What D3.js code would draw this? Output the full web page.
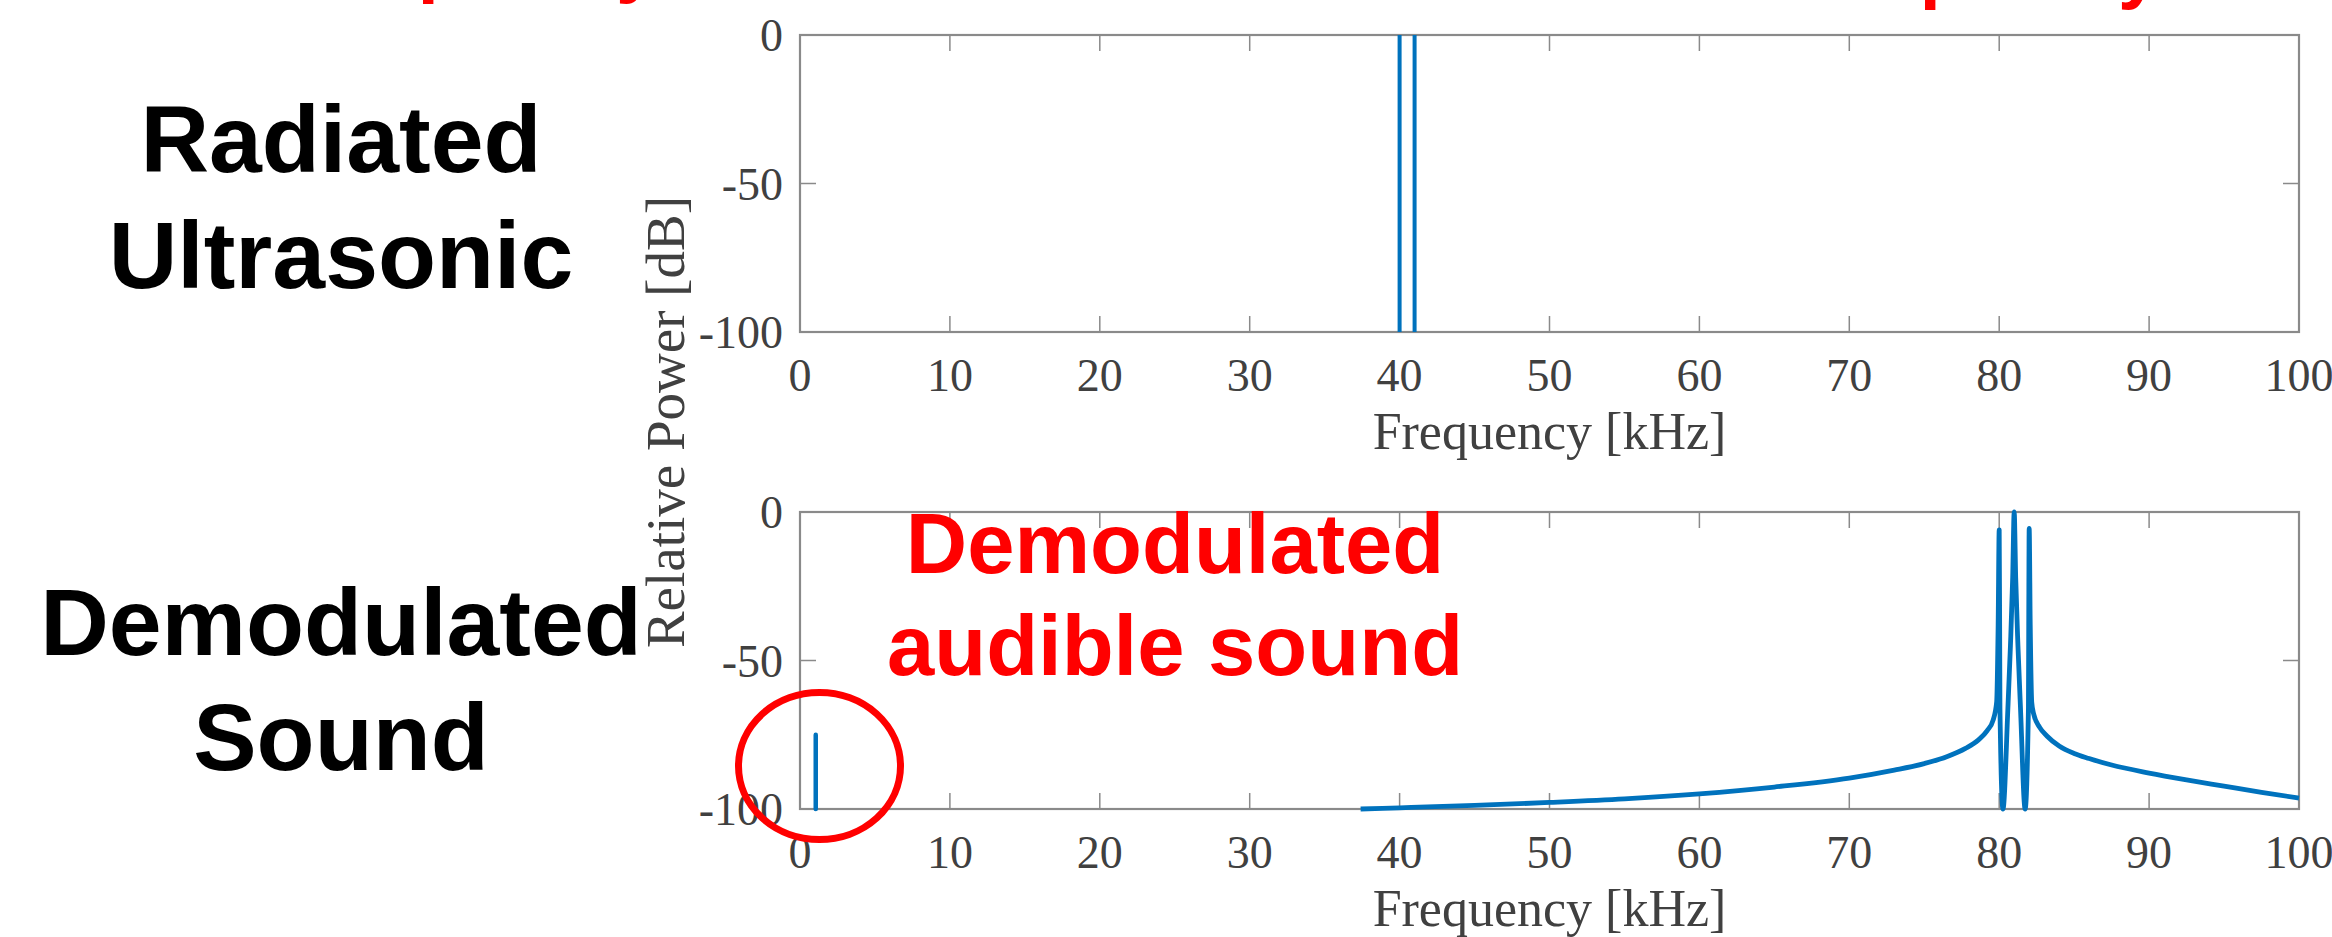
<!DOCTYPE html>
<html>
<head>
<meta charset="utf-8">
<script src="https://cdn.jsdelivr.net/npm/d3@7"></script>
<style>
  html, body { margin: 0; padding: 0; background: #fff; overflow: hidden; }
  svg { display: block; }
</style>
</head>
<body>
<svg id="chart" width="2332" height="937"></svg>
<script>
// ---------------- data ----------------
const xTickValues = [0, 10, 20, 30, 40, 50, 60, 70, 80, 90, 100];
const yTickValues = [0, -50, -100];
const xAxisTitle = "Frequency [kHz]";
const yAxisTitle = "Relative Power [dB]";

// Radiated ultrasonic: two spectral lines (kHz, dB)
const radiatedFreq = [40, 41];
const radiatedPower = [0, 0];

// Demodulated audible tone (kHz, dB)
const audibleFreq = [1.05];
const audiblePower = [-75];

// Demodulated spectrum around 2x carrier (kHz, dB)
const demodFreq = [37.4, 40, 45, 50, 55, 60, 65, 70, 73, 75, 76.5, 77.75, 78.6, 79.2, 79.6,
  79.83, 79.93, 80.0, 80.03, 80.05, 80.25, 80.58, 80.75, 80.9, 81.0, 81.1, 81.25, 81.42,
  81.73, 81.95, 81.97, 82.0, 82.07, 82.17, 82.3, 82.7, 83.2, 84, 85, 86, 87.5, 90, 92.5, 95, 97.5, 100];
const demodPower = [-100, -99.6, -98.8, -97.8, -96.6, -94.9, -92.6, -89.6, -86.9, -84.7, -82.4, -79.6, -76.8, -73.6, -70,
  -64, -38, -6, -38, -66, -100, -66, -45, -22, 0, -22, -45, -66,
  -100, -66, -38, -5.5, -38, -64, -68, -72.5, -75.5, -78.8, -81.3, -83, -85.2, -87.9, -90.2, -92.3, -94.4, -96.3];

const rowLabels = [["Radiated", "Ultrasonic"], ["Demodulated", "Sound"]];
const noteLines = ["Demodulated", "audible sound"];
const topCutText = "frequency";

// ---------------- layout ----------------
const svg = d3.select("#chart");
const xLeft = 800, xRight = 2299;
const panels = [
  { top: 35, bottom: 332 },
  { top: 512, bottom: 809 }
];
const blue = "#0072BD";
const axisGray = "#8a8a8a";
const labelGray = "#404040";
const serif = "'Liberation Serif', 'Times New Roman', serif";
const sans = "'Liberation Sans', Arial, Helvetica, sans-serif";

const x = d3.scaleLinear().domain([0, 100]).range([xLeft, xRight]);

// cut-off red text at top edge (only descenders visible, as in the reference)
svg.append("text").attr("x", 295).attr("y", -12)
  .attr("font-family", sans).attr("font-weight", "bold").attr("font-size", 76)
  .attr("fill", "#ff0000").text(topCutText);
svg.append("text").attr("x", 1797).attr("y", -6)
  .attr("font-family", sans).attr("font-weight", "bold").attr("font-size", 76)
  .attr("fill", "#ff0000").text(topCutText);

panels.forEach((p, i) => {
  const y = d3.scaleLinear().domain([-100, 0]).range([p.bottom, p.top]);
  p.y = y;
  const g = svg.append("g");
  const tl = 16;

  // ticks (inward, box style)
  const tickG = g.append("g").attr("stroke", axisGray).attr("stroke-width", 1.5);
  xTickValues.forEach(v => {
    tickG.append("line").attr("x1", x(v)).attr("x2", x(v)).attr("y1", p.bottom).attr("y2", p.bottom - tl);
    tickG.append("line").attr("x1", x(v)).attr("x2", x(v)).attr("y1", p.top).attr("y2", p.top + tl);
  });
  yTickValues.forEach(v => {
    tickG.append("line").attr("x1", xLeft).attr("x2", xLeft + tl).attr("y1", y(v)).attr("y2", y(v));
    tickG.append("line").attr("x1", xRight).attr("x2", xRight - tl).attr("y1", y(v)).attr("y2", y(v));
  });
  // box
  g.append("rect").attr("x", xLeft).attr("y", p.top)
    .attr("width", xRight - xLeft).attr("height", p.bottom - p.top)
    .attr("fill", "none").attr("stroke", axisGray).attr("stroke-width", 2.2);

  // tick labels
  xTickValues.forEach(v => {
    g.append("text").attr("x", x(v)).attr("y", p.bottom + 59)
      .attr("text-anchor", "middle").attr("font-family", serif).attr("font-size", 46)
      .attr("fill", labelGray).text(String(v));
  });
  yTickValues.forEach(v => {
    g.append("text").attr("x", xLeft - 17).attr("y", y(v) + 16)
      .attr("text-anchor", "end").attr("font-family", serif).attr("font-size", 46)
      .attr("fill", labelGray).text(String(v));
  });
  // x-axis title
  g.append("text").attr("x", (xLeft + xRight) / 2).attr("y", p.bottom + 117)
    .attr("text-anchor", "middle").attr("font-family", serif).attr("font-size", 52)
    .attr("fill", labelGray).text(xAxisTitle);

  // clip
  svg.append("clipPath").attr("id", "clip" + i).append("rect")
    .attr("x", xLeft - 3).attr("y", p.top - 3).attr("width", xRight - xLeft + 6).attr("height", p.bottom - p.top + 6);
});

// y-axis title shared
svg.append("text")
  .attr("transform", `translate(684, ${(panels[0].top + panels[1].bottom) / 2}) rotate(-90)`)
  .attr("text-anchor", "middle").attr("font-family", serif).attr("font-size", 55)
  .attr("fill", labelGray).text(yAxisTitle);

// ---- data marks ----
// top panel: spectral lines
const y0 = panels[0].y;
svg.append("g").attr("clip-path", "url(#clip0)")
  .selectAll("line").data(radiatedFreq.map((f, k) => ({ f, p: radiatedPower[k] })))
  .join("line")
  .attr("x1", d => x(d.f)).attr("x2", d => x(d.f))
  .attr("y1", y0(-100)).attr("y2", d => y0(d.p))
  .attr("stroke", blue).attr("stroke-width", 4);

// bottom panel
const y1 = panels[1].y;
const g1 = svg.append("g").attr("clip-path", "url(#clip1)");
g1.selectAll("line.aud").data(audibleFreq.map((f, k) => ({ f, p: audiblePower[k] })))
  .join("line").attr("class", "aud")
  .attr("x1", d => x(d.f)).attr("x2", d => x(d.f))
  .attr("y1", y1(-100)).attr("y2", d => y1(d.p))
  .attr("stroke", blue).attr("stroke-width", 4.5).attr("stroke-linecap", "round");

const demodData = demodFreq.map((f, k) => ({ f, p: demodPower[k] }));
const line = d3.line().x(d => x(d.f)).y(d => y1(d.p)).curve(d3.curveMonotoneX);
g1.append("path").datum(demodData).attr("d", line)
  .attr("fill", "none").attr("stroke", blue).attr("stroke-width", 4.8)
  .attr("stroke-linejoin", "round");

// row labels (black)
const rowBase = [[172, 288], [655, 770]];
rowLabels.forEach((lines, i) => {
  lines.forEach((t, j) => {
    svg.append("text").attr("x", 341).attr("y", rowBase[i][j])
      .attr("text-anchor", "middle").attr("font-family", sans).attr("font-weight", "bold")
      .attr("font-size", 95).attr("fill", "#000").text(t);
  });
});

// red annotation
const noteBase = [573, 675];
noteLines.forEach((t, j) => {
  svg.append("text").attr("x", 1175).attr("y", noteBase[j])
    .attr("text-anchor", "middle").attr("font-family", sans).attr("font-weight", "bold")
    .attr("font-size", 85).attr("fill", "#ff0000").text(t);
});

// red ellipse around audible peak
svg.append("ellipse").attr("cx", 819.5).attr("cy", 766).attr("rx", 81).attr("ry", 73.5)
  .attr("fill", "none").attr("stroke", "#ff0000").attr("stroke-width", 7);
</script>
</body>
</html>
